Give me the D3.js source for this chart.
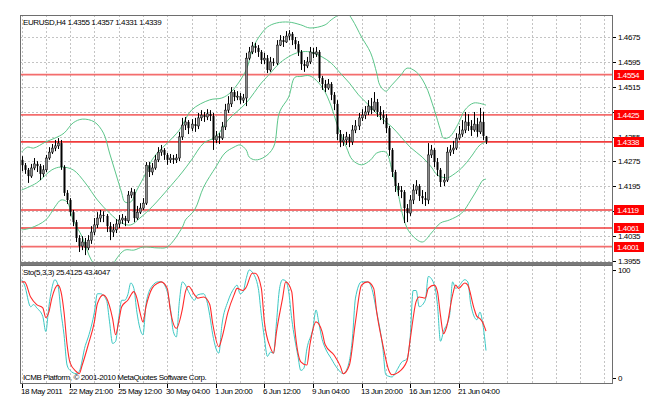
<!DOCTYPE html>
<html>
<head>
<meta charset="utf-8">
<script src="https://cdn.jsdelivr.net/npm/d3@7"></script>
<style>
  body { margin: 0; background: #fff; }
  text { font-family: "Liberation Sans", Arial, sans-serif; font-size: 8px; letter-spacing: -0.4px; }
</style>
</head>
<body>
<svg id="chart" width="645" height="397"></svg>
<script>
// EURUSD H4 candles, [open, high, low, close]
var candles = [
  [1.4280,1.4292,1.4244,1.4263],[1.4263,1.4270,1.4235,1.4248],[1.4248,1.4254,1.4206,1.4228],[1.4228,1.4267,1.4222,1.4254],
  [1.4254,1.4286,1.4247,1.4267],[1.4267,1.4276,1.4241,1.4260],[1.4260,1.4267,1.4215,1.4235],[1.4235,1.4263,1.4225,1.4248],
  [1.4248,1.4296,1.4241,1.4286],[1.4286,1.4321,1.4280,1.4305],[1.4305,1.4331,1.4299,1.4318],[1.4318,1.4344,1.4308,1.4325],
  [1.4325,1.4350,1.4315,1.4334],[1.4334,1.4344,1.4248,1.4257],[1.4257,1.4263,1.4164,1.4174],[1.4174,1.4183,1.4138,1.4151],
  [1.4151,1.4157,1.4100,1.4112],[1.4112,1.4119,1.4067,1.4080],[1.4080,1.4087,1.4016,1.4029],[1.4029,1.4038,1.3984,1.4003],
  [1.4003,1.4035,1.3990,1.4016],[1.4016,1.4029,1.3974,1.3997],[1.3997,1.4038,1.3990,1.4022],[1.4022,1.4067,1.4010,1.4048],
  [1.4048,1.4093,1.4038,1.4071],[1.4071,1.4112,1.4061,1.4093],[1.4093,1.4119,1.4080,1.4103],[1.4103,1.4115,1.4080,1.4100],
  [1.4100,1.4106,1.4048,1.4067],[1.4067,1.4080,1.4022,1.4048],[1.4048,1.4074,1.4032,1.4055],[1.4055,1.4090,1.4045,1.4074],
  [1.4074,1.4103,1.4061,1.4087],[1.4087,1.4106,1.4074,1.4093],[1.4093,1.4100,1.4067,1.4084],[1.4084,1.4180,1.4077,1.4167],
  [1.4167,1.4190,1.4157,1.4177],[1.4177,1.4186,1.4080,1.4093],[1.4093,1.4132,1.4087,1.4112],[1.4112,1.4141,1.4106,1.4125],
  [1.4125,1.4157,1.4119,1.4141],[1.4141,1.4273,1.4135,1.4263],[1.4263,1.4273,1.4225,1.4241],[1.4241,1.4270,1.4231,1.4254],
  [1.4254,1.4296,1.4248,1.4280],[1.4280,1.4321,1.4273,1.4305],[1.4305,1.4328,1.4293,1.4312],[1.4312,1.4318,1.4280,1.4296],
  [1.4296,1.4302,1.4264,1.4280],[1.4280,1.4299,1.4270,1.4286],[1.4286,1.4296,1.4267,1.4280],[1.4280,1.4299,1.4270,1.4286],
  [1.4286,1.4370,1.4276,1.4354],[1.4354,1.4415,1.4344,1.4392],[1.4392,1.4418,1.4376,1.4402],[1.4402,1.4408,1.4363,1.4382],
  [1.4382,1.4411,1.4373,1.4395],[1.4395,1.4415,1.4370,1.4389],[1.4389,1.4431,1.4379,1.4415],[1.4415,1.4440,1.4405,1.4424],
  [1.4424,1.4434,1.4402,1.4418],[1.4418,1.4443,1.4408,1.4428],[1.4428,1.4440,1.4405,1.4421],[1.4421,1.4431,1.4312,1.4344],
  [1.4344,1.4373,1.4334,1.4357],[1.4357,1.4366,1.4331,1.4350],[1.4350,1.4402,1.4344,1.4386],[1.4386,1.4460,1.4376,1.4440],
  [1.4440,1.4485,1.4431,1.4460],[1.4460,1.4514,1.4450,1.4498],[1.4498,1.4505,1.4469,1.4482],[1.4482,1.4501,1.4472,1.4485],
  [1.4485,1.4495,1.4460,1.4472],[1.4472,1.4492,1.4463,1.4479],[1.4479,1.4624,1.4453,1.4607],[1.4607,1.4643,1.4601,1.4627],
  [1.4627,1.4659,1.4620,1.4646],[1.4646,1.4656,1.4624,1.4640],[1.4640,1.4649,1.4611,1.4627],[1.4627,1.4633,1.4588,1.4601],
  [1.4601,1.4624,1.4588,1.4607],[1.4607,1.4617,1.4559,1.4569],[1.4569,1.4611,1.4563,1.4595],[1.4595,1.4607,1.4582,1.4591],
  [1.4591,1.4665,1.4585,1.4649],[1.4649,1.4681,1.4646,1.4665],[1.4665,1.4678,1.4643,1.4659],[1.4659,1.4694,1.4656,1.4678],
  [1.4678,1.4697,1.4665,1.4685],[1.4685,1.4691,1.4649,1.4665],[1.4665,1.4675,1.4636,1.4652],[1.4652,1.4662,1.4614,1.4627],
  [1.4627,1.4633,1.4569,1.4588],[1.4588,1.4601,1.4563,1.4582],[1.4582,1.4611,1.4575,1.4595],[1.4595,1.4643,1.4588,1.4627],
  [1.4627,1.4640,1.4607,1.4620],[1.4620,1.4643,1.4611,1.4627],[1.4627,1.4633,1.4530,1.4543],[1.4543,1.4550,1.4505,1.4524],
  [1.4524,1.4537,1.4498,1.4511],[1.4511,1.4540,1.4505,1.4524],[1.4524,1.4530,1.4472,1.4489],[1.4489,1.4498,1.4440,1.4460],
  [1.4460,1.4472,1.4344,1.4363],[1.4363,1.4376,1.4321,1.4338],[1.4338,1.4363,1.4325,1.4344],[1.4344,1.4370,1.4328,1.4354],
  [1.4354,1.4363,1.4321,1.4338],[1.4338,1.4392,1.4328,1.4376],[1.4376,1.4408,1.4366,1.4389],[1.4389,1.4431,1.4376,1.4415],
  [1.4415,1.4443,1.4405,1.4424],[1.4424,1.4453,1.4411,1.4434],[1.4434,1.4472,1.4424,1.4453],[1.4453,1.4479,1.4427,1.4440],
  [1.4440,1.4498,1.4434,1.4466],[1.4466,1.4476,1.4418,1.4434],[1.4434,1.4453,1.4408,1.4424],[1.4424,1.4440,1.4395,1.4415],
  [1.4415,1.4427,1.4366,1.4382],[1.4382,1.4389,1.4293,1.4312],[1.4312,1.4318,1.4225,1.4241],[1.4241,1.4248,1.4177,1.4196],
  [1.4196,1.4206,1.4164,1.4183],[1.4183,1.4196,1.4157,1.4177],[1.4177,1.4183,1.4077,1.4125],[1.4125,1.4138,1.4080,1.4109],
  [1.4109,1.4167,1.4100,1.4151],[1.4151,1.4202,1.4138,1.4183],[1.4183,1.4215,1.4170,1.4196],[1.4196,1.4202,1.4148,1.4164],
  [1.4164,1.4183,1.4138,1.4157],[1.4157,1.4177,1.4132,1.4151],[1.4151,1.4334,1.4138,1.4296],[1.4296,1.4328,1.4286,1.4312],
  [1.4312,1.4318,1.4257,1.4273],[1.4273,1.4286,1.4228,1.4248],[1.4248,1.4254,1.4193,1.4209],[1.4209,1.4235,1.4196,1.4215],
  [1.4215,1.4321,1.4209,1.4305],[1.4305,1.4328,1.4293,1.4312],[1.4312,1.4341,1.4299,1.4318],[1.4318,1.4366,1.4312,1.4350],
  [1.4350,1.4389,1.4344,1.4363],[1.4363,1.4408,1.4354,1.4376],[1.4376,1.4434,1.4366,1.4402],[1.4402,1.4427,1.4373,1.4389],
  [1.4389,1.4408,1.4357,1.4376],[1.4376,1.4434,1.4370,1.4395],[1.4395,1.4415,1.4354,1.4370],[1.4370,1.4447,1.4363,1.4402],
  [1.4402,1.4434,1.4344,1.4357],[1.4355,1.4357,1.4331,1.4339]
];

// Bollinger bands as [bar, price]
var bbUpper = [[0,1.4305],[2,1.4321],[4,1.4318],[8,1.4338],[11,1.4350],[14,1.4366],[17,1.4399],[20,1.4411],[24,1.4402],
  [27,1.4366],[29,1.4302],[31,1.4238],[33,1.4174],[34,1.4145],[36,1.4145],[38,1.4183],[41,1.4238],[43,1.4280],[45,1.4305],
  [48,1.4334],[52,1.4376],[56,1.4440],[62,1.4473],[66,1.4479],[69,1.4498],[74,1.4569],[76,1.4633],[78,1.4672],[81,1.4707],
  [84,1.4720],[88,1.4723],[92,1.4714],[95,1.4704],[100,1.4714],[102,1.4730],[105,1.4749],[107,1.4755],[109,1.4730],
  [112,1.4675],[115,1.4624],[117,1.4559],[118,1.4521],[120,1.4501],[122,1.4521],[125,1.4553],[127,1.4575],[130,1.4563],
  [133,1.4521],[136,1.4440],[138,1.4376],[139,1.4350],[141,1.4354],[144,1.4399],[146,1.4440],[149,1.4463],[153,1.4456]];
var bbMiddle = [[0,1.4183],[5,1.4206],[10,1.4248],[13,1.4257],[17,1.4248],[21,1.4206],[25,1.4151],[29,1.4109],[33,1.4077],
  [36,1.4071],[39,1.4093],[43,1.4129],[46,1.4161],[50,1.4206],[53,1.4241],[56,1.4280],[60,1.4334],[64,1.4354],[68,1.4408],
  [74,1.4463],[79,1.4527],[82,1.4559],[85,1.4591],[89,1.4617],[92,1.4627],[95,1.4627],[99,1.4611],[102,1.4591],[105,1.4559],
  [108,1.4527],[111,1.4489],[115,1.4450],[118,1.4418],[122,1.4386],[125,1.4354],[128,1.4321],[132,1.4289],[135,1.4257],
  [137,1.4231],[140,1.4222],[141,1.4225],[145,1.4254],[148,1.4289],[151,1.4328],[153,1.4338]];
var bbLower = [[0,1.4055],[3,1.4061],[8,1.4087],[11,1.4129],[13,1.4151],[15,1.4145],[17,1.4087],[20,1.4032],[23,1.3958],
  [26,1.3925],[29,1.3920],[31,1.3958],[34,1.3990],[37,1.3990],[40,1.4000],[45,1.3997],[48,1.4000],[53,1.4064],[54,1.4087],
  [57,1.4119],[60,1.4193],[64,1.4257],[67,1.4302],[70,1.4321],[72,1.4328],[74,1.4312],[75,1.4289],[77,1.4280],[80,1.4289],
  [83,1.4321],[85,1.4434],[88,1.4482],[90,1.4545],[92,1.4548],[95,1.4550],[99,1.4514],[102,1.4453],[104,1.4392],[107,1.4321],
  [109,1.4280],[112,1.4264],[115,1.4280],[117,1.4302],[120,1.4305],[122,1.4248],[124,1.4174],[126,1.4087],[128,1.4045],
  [132,1.4016],[135,1.4045],[138,1.4077],[141,1.4087],[145,1.4109],[148,1.4151],[150,1.4183],[152,1.4215],[153,1.4218]];

// Stochastic (5,3,3): %K main and %D signal, [bar, value]
var stochK = [[0,91],[1,86],[3,66],[4,68],[5,65],[7,57],[8,43],[9,66],[10,83],[11,91],[12,86],[13,61],[14,40],[15,12],
  [16,7],[18,4],[19,6],[21,30],[22,38],[24,61],[25,78],[26,78],[28,72],[29,52],[30,32],[31,34],[32,55],[33,72],[34,72],
  [35,77],[36,88],[37,83],[38,61],[39,46],[40,40],[41,68],[42,80],[43,85],[45,89],[46,89],[48,80],[49,65],[50,43],[51,38],
  [52,71],[53,89],[54,86],[55,80],[57,72],[58,77],[60,78],[61,72],[62,58],[63,40],[65,23],[66,49],[68,71],[70,83],[71,86],
  [72,78],[73,80],[74,92],[75,100],[76,98],[78,83],[79,58],[80,37],[81,20],[82,24],[83,23],[84,52],[85,83],[86,91],[87,90],
  [88,80],[89,55],[91,21],[92,7],[93,9],[94,27],[96,46],[97,63],[98,50],[99,36],[100,28],[102,18],[104,9],[106,4],[107,7],
  [109,37],[110,74],[112,89],[114,89],[115,86],[117,61],[119,28],[120,3],[122,1],[124,9],[125,14],[127,18],[128,37],[129,81],
  [130,81],[131,66],[133,72],[134,94],[136,86],[137,68],[138,34],[139,43],[141,58],[142,89],[143,83],[144,85],[146,91],
  [147,89],[148,68],[150,54],[151,61],[152,49],[153,25.4125]];
var stochD = [[0,89],[1,89],[3,75],[5,68],[7,65],[8,56],[9,61],[10,74],[12,86],[13,80],[14,61],[15,31],[16,14],[18,6],
  [19,4],[20,12],[22,31],[24,52],[25,69],[27,77],[28,74],[30,55],[31,40],[32,52],[33,66],[35,72],[37,80],[38,74],[39,61],
  [40,52],[41,66],[43,83],[45,88],[46,89],[48,83],[49,63],[51,46],[53,64],[54,80],[55,85],[57,77],[58,74],[60,75],[62,68],
  [63,50],[65,29],[66,37],[68,61],[70,77],[71,83],[73,81],[74,84],[76,97],[77,97],[79,83],[80,52],[82,28],[83,23],[84,43],
  [86,74],[87,89],[89,80],[90,46],[92,15],[94,12],[95,31],[97,52],[99,43],[100,31],[103,21],[105,11],[106,4],[108,12],
  [110,52],[112,86],[114,89],[116,83],[117,61],[119,31],[121,7],[122,3],[124,5],[127,16],[128,35],[130,71],[131,75],
  [133,74],[134,83],[136,86],[137,80],[138,58],[139,41],[140,47],[142,77],[143,86],[144,83],[146,88],[147,86],[149,65],
  [150,57],[151,55],[152,51],[153,43.4047]];

var levels = [1.4554, 1.4425, 1.4338, 1.4119, 1.4061, 1.4001];
var priceTicks = [1.4675, 1.4595, 1.4515, 1.4435, 1.4355, 1.4275, 1.4195, 1.4115, 1.4035, 1.3955];
var timeBars = [0, 16, 32, 48, 64, 80, 96, 112, 128, 144];
var timeLabels = ["18 May 2011", "22 May 21:00", "25 May 12:00", "30 May 04:00", "1 Jun 20:00",
                  "6 Jun 12:00", "9 Jun 04:00", "13 Jun 20:00", "16 Jun 12:00", "21 Jun 04:00"];

var left = 20, right = 612,
    mainTop = 15, mainBottom = 262,
    subTop = 265, subBottom = 383;

var svg = d3.select("#chart");

var x = d3.scaleLinear().domain([-0.5, 194.5]).range([left, right]);
var y = d3.scaleLinear().domain([1.3955, 1.4675]).range([261, 37]);
var ys = d3.scaleLinear().domain([0, 100]).range([378, 270]);

svg.append("rect").attr("width", 645).attr("height", 397).attr("fill", "#fff");

var defs = svg.append("defs");
defs.append("clipPath").attr("id", "clipMain").append("rect")
  .attr("x", left).attr("y", mainTop).attr("width", right - left).attr("height", mainBottom - mainTop);
defs.append("clipPath").attr("id", "clipSub").append("rect")
  .attr("x", left).attr("y", subTop).attr("width", right - left).attr("height", subBottom - subTop);

// grid
var gridBars = d3.range(0, 195, 8);
var grid = svg.append("g").attr("stroke", "#c4c4c4").attr("stroke-dasharray", "2,2").attr("shape-rendering", "crispEdges");
grid.selectAll("line.hg").data(priceTicks).enter().append("line")
  .attr("x1", left).attr("x2", right)
  .attr("y1", function(d) { return Math.round(y(d)) + 0.5; })
  .attr("y2", function(d) { return Math.round(y(d)) + 0.5; });
grid.selectAll("line.vg").data(gridBars).enter().append("line")
  .attr("x1", function(d) { return Math.round(x(d)) + 0.5; })
  .attr("x2", function(d) { return Math.round(x(d)) + 0.5; })
  .attr("y1", mainTop).attr("y2", mainBottom);
grid.selectAll("line.vs").data(gridBars).enter().append("line")
  .attr("x1", function(d) { return Math.round(x(d)) + 0.5; })
  .attr("x2", function(d) { return Math.round(x(d)) + 0.5; })
  .attr("y1", subTop).attr("y2", subBottom);

// horizontal levels
var main = svg.append("g").attr("clip-path", "url(#clipMain)");
main.selectAll("line.level").data(levels).enter().append("line")
  .attr("x1", left).attr("x2", right)
  .attr("y1", function(d) { return y(d); }).attr("y2", function(d) { return y(d); })
  .attr("stroke", "#f03c3c").attr("stroke-opacity", function(d) { return d === 1.4338 ? 1 : 0.75; })
  .attr("stroke-width", 1.8);

// bands
var band = d3.line()
  .x(function(d) { return x(d[0]); })
  .y(function(d) { return y(d[1]); })
  .curve(d3.curveCatmullRom.alpha(0.5));
[bbUpper, bbMiddle, bbLower].forEach(function(b) {
  main.append("path").attr("d", band(b)).attr("fill", "none")
    .attr("stroke", "#5cc68a").attr("stroke-width", 1);
});

// candles
var cg = main.append("g");
candles.forEach(function(c, i) {
  var cx = Math.round(x(i));
  var up = c[3] >= c[0];
  cg.append("line")
    .attr("x1", cx + 0.5).attr("x2", cx + 0.5)
    .attr("y1", y(c[1])).attr("y2", y(c[2]))
    .attr("stroke", "#000").attr("stroke-width", 1);
  var top = y(Math.max(c[0], c[3])), bot = y(Math.min(c[0], c[3]));
  cg.append("rect")
    .attr("x", cx - 0.5).attr("width", 2)
    .attr("y", top).attr("height", Math.max(1, bot - top))
    .attr("fill", up ? "#8c8c8c" : "#000")
    .attr("stroke", "#000").attr("stroke-width", up ? 0.5 : 0);
});

// stochastic
var sub = svg.append("g").attr("clip-path", "url(#clipSub)");
var sline = d3.line()
  .x(function(d) { return x(d[0]); })
  .y(function(d) { return ys(d[1]); })
  .curve(d3.curveMonotoneX);
sub.append("path").attr("d", sline(stochK)).attr("fill", "none")
  .attr("stroke", "#3cc8c4").attr("stroke-width", 1);
sub.append("path").attr("d", sline(stochD)).attr("fill", "none")
  .attr("stroke", "#ff2a2a").attr("stroke-width", 1.1);

// frames
var frame = svg.append("g").attr("fill", "none").attr("stroke", "#6e6e6e").attr("shape-rendering", "crispEdges");
frame.append("rect").attr("x", left + 0.5).attr("y", mainTop + 0.5).attr("width", right - left).attr("height", mainBottom - mainTop);
frame.append("rect").attr("x", left + 0.5).attr("y", subTop + 0.5).attr("width", right - left).attr("height", subBottom - subTop);
svg.append("rect").attr("x", left).attr("y", mainBottom).attr("width", right - left + 1).attr("height", subTop - mainBottom)
  .attr("fill", "#7a7a7a");

// price axis
var pa = svg.append("g");
pa.selectAll("line").data(priceTicks).enter().append("line")
  .attr("x1", right + 1).attr("x2", right + 4)
  .attr("y1", function(d) { return Math.round(y(d)) + 0.5; })
  .attr("y2", function(d) { return Math.round(y(d)) + 0.5; })
  .attr("stroke", "#000");
pa.selectAll("text").data(priceTicks).enter().append("text")
  .attr("x", right + 6).attr("y", function(d) { return y(d) + 3; })
  .text(function(d) { return d3.format(".4f")(d); });

// level labels
var ll = svg.append("g");
ll.selectAll("rect").data(levels).enter().append("rect")
  .attr("x", right + 2).attr("width", 30)
  .attr("y", function(d) { return Math.round(y(d)) - 5; }).attr("height", 10)
  .attr("fill", "#ff0000");
ll.selectAll("text").data(levels).enter().append("text")
  .attr("x", right + 5).attr("y", function(d) { return Math.round(y(d)) + 3; })
  .attr("fill", "#fff")
  .text(function(d) { return d3.format(".4f")(d); });

// stochastic scale
[100, 0].forEach(function(v) {
  svg.append("line").attr("x1", right + 1).attr("x2", right + 4)
    .attr("y1", Math.round(ys(v)) + 0.5).attr("y2", Math.round(ys(v)) + 0.5).attr("stroke", "#000");
  svg.append("text").attr("x", right + 6).attr("y", ys(v) + 3).text(v);
});

// time axis
var ta = svg.append("g");
timeBars.forEach(function(b, i) {
  var tx = Math.round(x(b)) + 0.5;
  ta.append("line").attr("x1", tx).attr("x2", tx).attr("y1", subBottom + 1).attr("y2", subBottom + 5).attr("stroke", "#000");
  ta.append("text").attr("x", tx - 1.5).attr("y", 394).text(timeLabels[i]);
});

// captions
svg.append("text").attr("x", 23).attr("y", 25).text("EURUSD,H4  1.4355 1.4357 1.4331 1.4339");
svg.append("text").attr("x", 23).attr("y", 275).text("Sto(5,3,3) 25.4125 43.4047");
svg.append("text").attr("x", 23).attr("y", 380).text("ICMB Platform, \u00a9 2001-2010 MetaQuotes Software Corp.");
</script>
</body>
</html>
